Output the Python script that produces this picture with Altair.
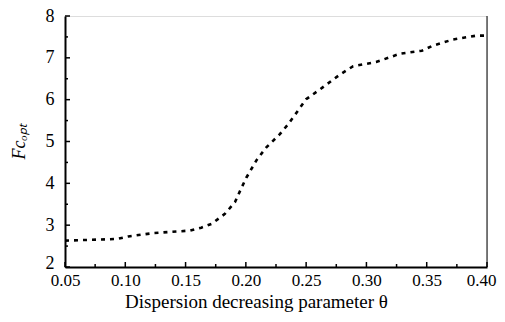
import altair as alt
import pandas as pd

theta = [0.05, 0.093, 0.1025, 0.123, 0.1536, 0.163, 0.1715, 0.1826, 0.191, 0.196, 0.2005,
         0.209, 0.217, 0.228, 0.235, 0.242, 0.250, 0.264, 0.278, 0.289, 0.308, 0.328,
         0.346, 0.355, 0.372, 0.391, 0.40]
fc_opt = [2.63, 2.67, 2.73, 2.81, 2.87, 2.94, 3.03, 3.27, 3.55, 3.87, 4.14,
          4.56, 4.86, 5.17, 5.41, 5.69, 6.01, 6.30, 6.60, 6.80, 6.90, 7.10,
          7.17, 7.29, 7.44, 7.53, 7.53]

x_major = [0.05, 0.10, 0.15, 0.20, 0.25, 0.30, 0.35, 0.40]
x_minor = [0.075, 0.125, 0.175, 0.225, 0.275, 0.325, 0.375]
y_major = [2, 3, 4, 5, 6, 7, 8]
y_minor = [2.5, 3.5, 4.5, 5.5, 6.5, 7.5]

df = pd.DataFrame({"theta": theta, "fc": fc_opt})

W, H = 422, 251
FONT = "Liberation Serif"

xs = alt.Scale(domain=[0.05, 0.40], nice=False)
ys = alt.Scale(domain=[2, 8], nice=False)

xaxis = alt.Axis(values=x_major, format=".2f", tickSize=0, labelPadding=5,
                 domainWidth=2, domainColor="black", grid=False,
                 labelFont=FONT, labelFontSize=17, labelColor="black",
                 labelFlush=False,
                 labelOffset={"condition": {"test": "datum.value >= 0.399", "value": -6},
                              "value": 0},
                 title="Dispersion decreasing parameter θ", titleFont=FONT,
                 titleFontSize=19, titleFontWeight="normal", titleColor="black",
                 titlePadding=4, titleX=W / 2 - 20)
yaxis = alt.Axis(values=y_major, format="d", tickSize=0, labelPadding=11,
                 domainWidth=2, domainColor="black", grid=False,
                 labelFont=FONT, labelFontSize=18, labelColor="black",
                 labelFlush=False,
                 labelOffset={"condition": {"test": "datum.value <= 2.01", "value": -4},
                              "value": 0},
                 title="Fcₒₚₜ", titleFont=FONT, titleFontSize=18,
                 titleFontWeight="normal", titleFontStyle="italic",
                 titleColor="black", titlePadding=17)

line = alt.Chart(df).mark_line(color="black", strokeWidth=2.6, strokeDash=[4, 5]).encode(
    x=alt.X("theta:Q", scale=xs, axis=xaxis),
    y=alt.Y("fc:Q", scale=ys, axis=yaxis),
)

def xticks(vals, size):
    return alt.Chart(pd.DataFrame({"theta": vals})).mark_rule(
        color="black", strokeWidth=1.5).encode(
        x=alt.X("theta:Q", scale=xs, axis=xaxis),
        y=alt.value(H), y2=alt.value(H - size))

def yticks(vals, size):
    return alt.Chart(pd.DataFrame({"fc": vals})).mark_rule(
        color="black", strokeWidth=1.5).encode(
        y=alt.Y("fc:Q", scale=ys, axis=yaxis),
        x=alt.value(0), x2=alt.value(size))

right_edge = alt.Chart(pd.DataFrame({"theta": [0.40], "fc": [2], "fc2": [8]})).mark_rule(
    color="black", strokeWidth=1
).encode(x=alt.X("theta:Q", scale=xs, axis=xaxis),
         y=alt.Y("fc:Q", scale=ys, axis=yaxis), y2="fc2:Q")

chart = alt.layer(line, xticks(x_major, 5), xticks(x_minor, 3),
                  yticks(y_major, 5), yticks(y_minor, 3), right_edge).properties(
    width=W, height=H,
    autosize=alt.AutoSizeParams(type="none"),
    padding={"left": 57, "top": 8, "right": 10, "bottom": 47},
).configure_view(stroke=None).configure(background="white")

chart.save("out.html", embed_options={"renderer": "svg", "actions": False})
